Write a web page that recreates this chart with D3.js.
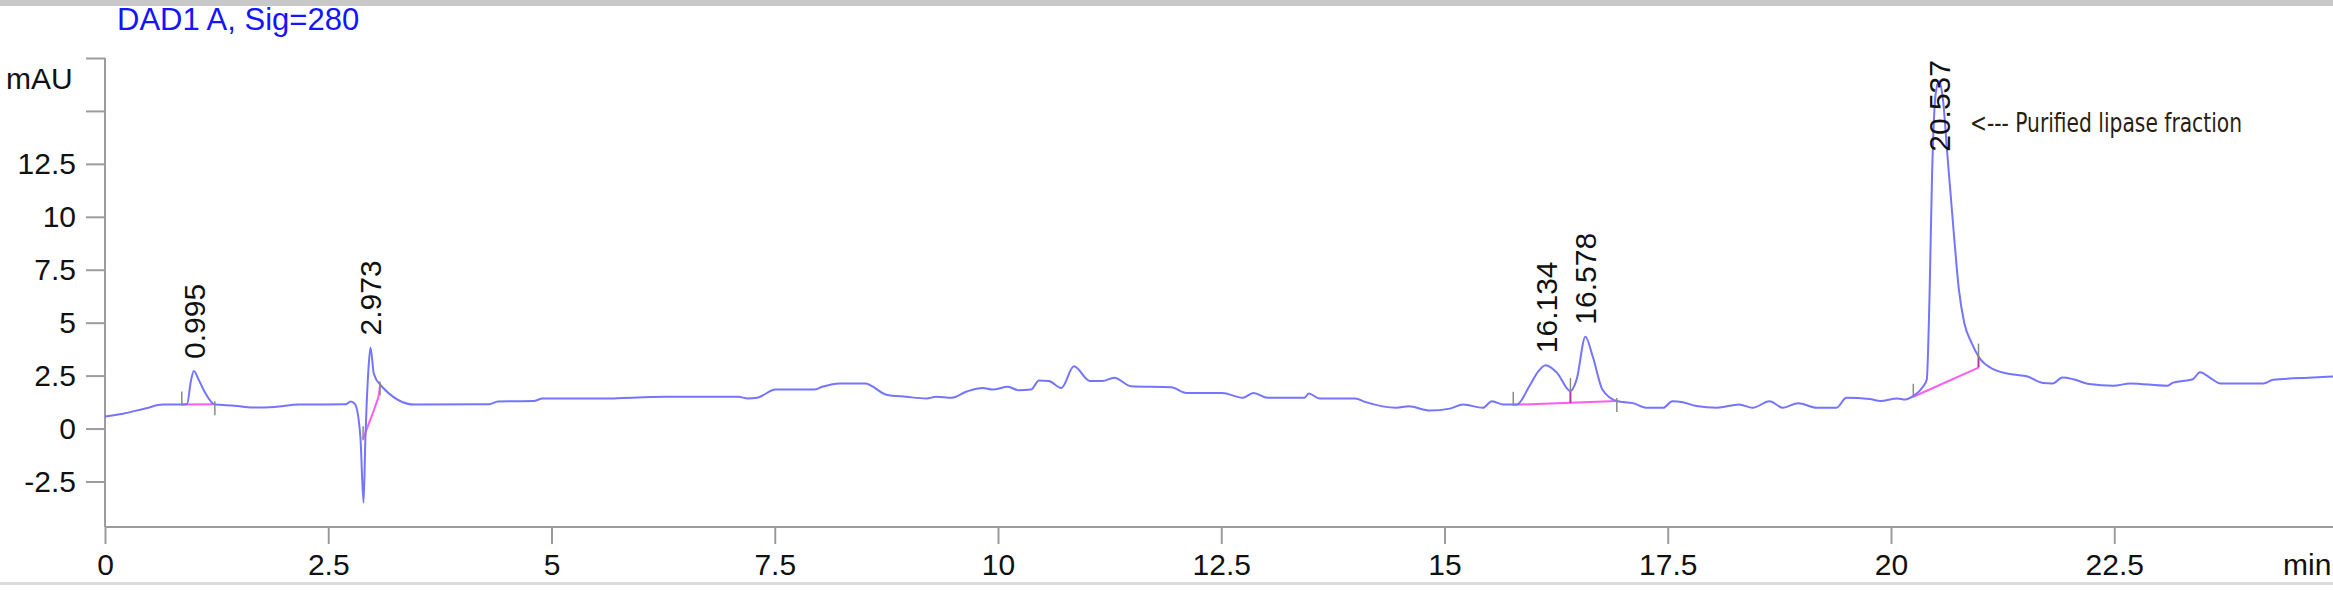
<!DOCTYPE html>
<html>
<head>
<meta charset="utf-8">
<script src="https://cdn.jsdelivr.net/npm/d3@7"></script>
<style>
  html, body { margin: 0; padding: 0; background: #fff; }
  svg { display: block; }
</style>
</head>
<body>
<div id="plotWin"></div>
<script>
// chromatogram trace, [time (min), signal (mAU)]
var trace = [
  [0.00,0.57],[0.20,0.70],[0.45,0.95],[0.65,1.13],[0.86,1.13],[0.92,1.16],[0.96,2.20],[0.995,2.72],
  [1.05,2.30],[1.12,1.70],[1.23,1.13],[1.45,1.08],[1.65,0.99],[1.90,1.02],[2.17,1.13],[2.70,1.15],
  [2.75,1.28],[2.80,1.15],[2.86,-0.40],[2.895,-3.50],[2.915,-0.60],[2.95,2.80],[2.973,3.83],[3.01,2.60],
  [3.08,2.08],[3.47,1.13],[4.30,1.15],[4.40,1.28],[4.80,1.30],[4.90,1.42],[5.54,1.42],[6.28,1.50],
  [7.09,1.50],[7.20,1.42],[7.30,1.45],[7.51,1.84],[7.94,1.84],[8.03,1.97],[8.23,2.13],[8.51,2.13],
  [8.75,1.60],[8.97,1.50],[9.20,1.42],[9.31,1.50],[9.48,1.45],[9.65,1.75],[9.83,1.92],[9.94,1.84],
  [10.11,1.97],[10.23,1.81],[10.37,1.84],[10.46,2.27],[10.57,2.24],[10.71,1.92],[10.85,2.94],[11.03,2.24],
  [11.17,2.24],[11.30,2.40],[11.49,2.00],[11.94,1.95],[12.11,1.68],[12.51,1.68],[12.74,1.45],[12.86,1.68],
  [13.02,1.45],[13.43,1.45],[13.48,1.65],[13.60,1.42],[14.00,1.42],[14.11,1.26],[14.46,0.98],[14.60,1.05],
  [14.84,0.85],[15.06,0.94],[15.21,1.14],[15.43,0.98],[15.53,1.29],[15.66,1.14],[15.81,1.14],[15.95,2.00],
  [16.05,2.70],[16.134,2.99],[16.26,2.63],[16.41,1.77],[16.48,2.32],[16.578,4.34],[16.66,3.40],[16.77,1.83],
  [16.93,1.30],[17.11,1.20],[17.27,0.98],[17.45,0.98],[17.55,1.29],[17.67,1.24],[17.82,1.06],[18.05,0.98],
  [18.30,1.14],[18.45,0.98],[18.64,1.29],[18.79,0.98],[18.96,1.20],[19.17,0.98],[19.39,0.98],[19.50,1.45],
  [19.76,1.40],[19.88,1.30],[20.07,1.42],[20.16,1.37],[20.25,1.54],[20.36,1.99],[20.40,2.30],[20.43,6.00],
  [20.46,12.00],[20.50,15.80],[20.537,16.40],[20.58,15.60],[20.63,13.00],[20.70,9.40],[20.76,6.57],[20.82,5.00],
  [20.90,4.07],[20.98,3.40],[21.15,2.79],[21.37,2.55],[21.52,2.47],[21.70,2.15],[21.81,2.13],[21.92,2.41],
  [22.04,2.33],[22.22,2.10],[22.49,2.02],[22.68,2.13],[23.09,2.02],[23.16,2.17],[23.38,2.33],[23.46,2.66],
  [23.57,2.41],[23.69,2.13],[24.17,2.13],[24.28,2.30],[24.73,2.41],[24.95,2.46]
];

// integration baselines
var baselines = [
  [[0.86,1.13],[1.23,1.15]],
  [[2.89,-0.50],[2.96,0.30],[3.03,1.10],[3.07,1.70],[3.08,2.08]],
  [[15.77,1.12],[16.93,1.30]],
  [[20.25,1.50],[20.98,2.88]]
];
// drop lines between baseline and trace
var dropLines = [[16.41,1.21,1.77],[20.98,2.88,3.40]];
// baseline event marks: time, value, kind (s = start, e = end)
var events = [[0.86,1.13,"s"],[1.23,1.15,"e"],[2.89,-0.50,"s"],[3.08,2.08,"e"],
  [15.77,1.12,"s"],[16.41,1.77,"s"],[16.93,1.30,"e"],[20.25,1.50,"s"],[20.98,3.40,"s"]];

var peakTimes = [0.995, 2.973, 16.134, 16.578, 20.537];
var peakLabels = ["0.995", "2.973", "16.134", "16.578", "20.537"];

var xMajor = [0, 2.5, 5, 7.5, 10, 12.5, 15, 17.5, 20, 22.5];
var yMajor = [-2.5, 0, 2.5, 5, 7.5, 10, 12.5, 15, 17.5];
var yLabelled = [-2.5, 0, 2.5, 5, 7.5, 10, 12.5];

var title = "DAD1 A, Sig=280";
var yUnit = "mAU";
var xUnit = "min";
var note = "<--- Purified lipase fraction";

var W = 2333, H = 590,
  FONT = "'Liberation Sans', Arial, sans-serif",
  AXIS_COL = "#9c9c9c",
  TRACE_COL = "#7474ff",
  BASE_COL = "#ff5cf0";

var svg = d3.select("#plotWin").append("svg")
  .attr("width", W)
  .attr("height", H);

// window frame bits
svg.append("rect").attr("x", 0).attr("y", 0).attr("width", W).attr("height", 6).attr("fill", "#c8c8c8");
svg.append("rect").attr("x", 0).attr("y", 582).attr("width", W).attr("height", 3).attr("fill", "#dadada");

var x = d3.scaleLinear().domain([0, 25]).range([105, 105 + 25 * 89.3]);
var y = d3.scaleLinear().domain([-4.65, 17.5]).range([527, 58]);

// y axis: minor then major
var gy = svg.append("g").attr("transform", "translate(" + x(0) + ",0)");
gy.call(d3.axisLeft(y).tickValues(d3.range(-4.5, 17.51, 0.5)).tickSize(8).tickFormat(""));
gy.call(d3.axisLeft(y).tickValues(yMajor).tickSize(19).tickPadding(10)
  .tickFormat(function(d) { return yLabelled.indexOf(d) >= 0 ? String(d) : ""; }));
gy.selectAll("path").attr("d", "M0," + y(17.5) + "V" + y.range()[0]);

// x axis
var gx = svg.append("g").attr("transform", "translate(0," + y.range()[0] + ")");
gx.call(d3.axisBottom(x).tickValues(d3.range(0, 25, 0.5)).tickSize(7).tickFormat(""));
gx.call(d3.axisBottom(x).tickValues(xMajor).tickSize(17).tickFormat(function(d) { return String(d); }));
gx.selectAll("path").attr("d", "M" + x(0) + ",0H" + W);
gx.selectAll("text").attr("y", 48).attr("dy", null);

svg.selectAll(".tick line").attr("stroke", AXIS_COL).attr("stroke-width", 2);
svg.selectAll(".domain").attr("stroke", AXIS_COL).attr("stroke-width", 2);
svg.selectAll(".tick text").attr("fill", "#111").style("font-family", FONT).style("font-size", "30px");

// unit labels and title
svg.append("text").attr("x", 6).attr("y", 89).text(yUnit)
  .style("font-family", FONT).style("font-size", "30px").attr("fill", "#111");
svg.append("text").attr("x", 2283).attr("y", 575).text(xUnit)
  .style("font-family", FONT).style("font-size", "30px").attr("fill", "#111");
svg.append("text").attr("x", 117).attr("y", 30).text(title)
  .style("font-family", FONT).style("font-size", "31px").attr("fill", "#1414ff");

var line = d3.line().x(function(d) { return x(d[0]); }).y(function(d) { return y(d[1]); });

// baselines
svg.selectAll(".base").data(baselines).enter().append("path")
  .attr("class", "base")
  .attr("d", d3.line().x(function(d) { return x(d[0]); }).y(function(d) { return y(d[1]); })
    .curve(d3.curveMonotoneX))
  .attr("fill", "none").attr("stroke", BASE_COL).attr("stroke-width", 2);

svg.selectAll(".drop").data(dropLines).enter().append("line")
  .attr("x1", function(d) { return x(d[0]); }).attr("x2", function(d) { return x(d[0]); })
  .attr("y1", function(d) { return y(d[1]); }).attr("y2", function(d) { return y(d[2]); })
  .attr("stroke", "#c0309a").attr("stroke-width", 2);

// trace
svg.append("path").datum(trace)
  .attr("d", line.curve(d3.curveMonotoneX))
  .attr("fill", "none").attr("stroke", TRACE_COL).attr("stroke-width", 2)
  .attr("stroke-linejoin", "round");

// start / end marks
svg.selectAll(".ev").data(events).enter().append("line")
  .attr("x1", function(d) { return x(d[0]); }).attr("x2", function(d) { return x(d[0]); })
  .attr("y1", function(d) { return d[2] == "s" ? y(d[1]) - 13 : y(d[1]) - 3; })
  .attr("y2", function(d) { return d[2] == "s" ? y(d[1]) + 1 : y(d[1]) + 11; })
  .attr("stroke", "#8a8a8a").attr("stroke-width", 1.5);

// peak retention time labels
function apex(t) {
  var best = trace[0];
  trace.forEach(function(p) { if (Math.abs(p[0] - t) < Math.abs(best[0] - t)) best = p; });
  return best[1];
}
var labels = svg.selectAll(".pk").data(peakTimes).enter().append("text")
  .attr("class", "pk")
  .text(function(d, i) { return peakLabels[i]; })
  .style("font-family", FONT).style("font-size", "30px").attr("fill", "#111");
labels.attr("transform", function(d) {
  var len = this.getComputedTextLength(),
    bottom = y(apex(d)) - 12;
  if (bottom - len < y(17.5) + 2) bottom = y(17.5) + 2 + len;
  return "translate(" + (x(d) + 11) + "," + bottom + ") rotate(-90)";
});

// annotation
svg.append("text").attr("x", 1970).attr("y", 132).text(note)
  .attr("textLength", 272).attr("lengthAdjust", "spacingAndGlyphs")
  .style("font-family", "'DejaVu Sans Condensed', 'Liberation Sans Narrow', sans-serif")
  .style("font-size", "26px").attr("fill", "#2a1e10");
</script>
</body>
</html>
